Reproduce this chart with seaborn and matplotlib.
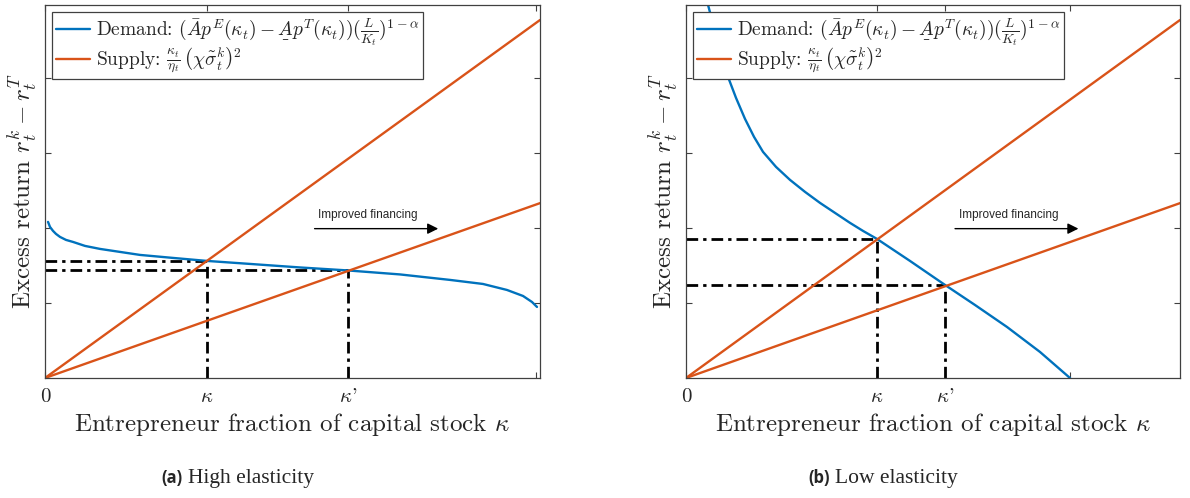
import numpy as np
import pandas as pd
import matplotlib
matplotlib.use("Agg")
import matplotlib.pyplot as plt
import seaborn as sns
from matplotlib.mathtext import MathTextParser

# ---------------- data ----------------
supply_x = [0.0, 1.0]
supply_steep = [0.0, 4.77]
supply_shallow = [0.0, 2.33]

left_demand_x = [0.0061, 0.0101, 0.0162, 0.0222, 0.0303, 0.0424, 0.0566, 0.0808,
                 0.1111, 0.1515, 0.1919, 0.2586, 0.3273, 0.4141, 0.5152, 0.6121,
                 0.7172, 0.8182, 0.8848, 0.9333, 0.9657, 0.9838, 0.9939]
left_demand_y = [2.080, 2.013, 1.960, 1.920, 1.880, 1.840, 1.813, 1.760,
                 1.720, 1.680, 1.640, 1.600, 1.560, 1.520, 1.473, 1.433,
                 1.380, 1.307, 1.253, 1.173, 1.093, 1.013, 0.947]
left_kappa = [0.327, 0.612]
left_eq = [1.56, 1.433]
left_end_tick = 0.992

right_demand_x = [0.0445, 0.0547, 0.0648, 0.0749, 0.0850, 0.1012, 0.1194, 0.1377,
                  0.1559, 0.1822, 0.2105, 0.2409, 0.2713, 0.3016, 0.3320, 0.3583,
                  0.3866, 0.4534, 0.5243, 0.5850, 0.6498, 0.7166, 0.7773]
right_demand_y = [4.973, 4.720, 4.453, 4.227, 4.013, 3.733, 3.453, 3.213,
                  3.013, 2.813, 2.640, 2.480, 2.333, 2.200, 2.067, 1.960,
                  1.853, 1.560, 1.240, 0.973, 0.680, 0.347, 0.000]
right_kappa = [0.3866, 0.5243]
right_eq = [1.853, 1.240]
right_end_tick = 0.7773

tick_labels = ["0", r"$\kappa$", r"$\kappa$'"]
y_ticks = [1, 2, 3, 4]
captions = [("(a)", "High elasticity"), ("(b)", "Low elasticity")]
arrow_text = "Improved financing"

# ---------------- style ----------------
sns.set_theme(style="white")
plt.rcParams["mathtext.fontset"] = "cm"
plt.rcParams["font.family"] = ["cmr10", "DejaVu Sans"]
plt.rcParams["axes.formatter.use_mathtext"] = True

BLUE = "#0072BD"
ORANGE = "#D95319"
SPINE = "0.25"

UA = "A"
for cand in [r"\underline{A}", r"\underset{\_}{A}"]:
    try:
        MathTextParser("path").parse("$" + cand + "$")
        UA = cand
        break
    except Exception:
        pass

demand_label = (r"Demand: $(\bar{A}p^E(\kappa_t)-" + UA +
                r"p^T(\kappa_t))(\frac{L}{K_t})^{1-\alpha}$")
supply_label = r"Supply: $\frac{\kappa_t}{\eta_t}\,\left(\chi\tilde{\sigma}_t^k\right)^2$"

fig = plt.figure(figsize=(11.9, 4.98), dpi=100)
W, H = 1190, 498
ax_l = fig.add_axes([45 / W, 1 - 378 / H, 495 / W, 373 / H])
ax_r = fig.add_axes([686 / W, 1 - 378 / H, 494 / W, 373 / H])

panels = [
    (ax_l, left_demand_x, left_demand_y, left_kappa, left_eq, left_end_tick),
    (ax_r, right_demand_x, right_demand_y, right_kappa, right_eq, right_end_tick),
]

dashdot = (0, (4.2, 1.8, 1.2, 1.8))

for i, (ax, dx, dy, kap, eq, endt) in enumerate(panels):
    sns.lineplot(x=dx, y=dy, ax=ax, color=BLUE, lw=1.7, sort=False,
                 estimator=None, label=demand_label)
    sns.lineplot(x=supply_x, y=supply_steep, ax=ax, color=ORANGE, lw=1.7,
                 sort=False, estimator=None, label=supply_label)
    sns.lineplot(x=supply_x, y=supply_shallow, ax=ax, color=ORANGE, lw=1.7,
                 sort=False, estimator=None, label="_nolegend_")
    for k, e in zip(kap, eq):
        ax.plot([0, k], [e, e], color="black", lw=2.0, linestyle=dashdot, zorder=1)
        ax.plot([k, k], [0, e], color="black", lw=2.0, linestyle=dashdot, zorder=1)

    ax.set_xlim(0, 1)
    ax.set_ylim(0, 4.97)
    ax.set_xticks([0] + kap + [endt])
    ax.set_xticklabels(tick_labels + [""], fontsize=15)
    ax.set_yticks(y_ticks)
    ax.set_yticklabels([])
    ax.tick_params(axis="both", which="both", direction="in", length=4,
                   width=0.8, color=SPINE, top=True, right=True, bottom=True,
                   left=True, pad=7)
    for s in ax.spines.values():
        s.set_visible(True)
        s.set_color(SPINE)
        s.set_linewidth(0.9)

    ax.set_xlabel(r"Entrepreneur fraction of capital stock $\kappa$",
                  fontsize=18, labelpad=4)
    ax.set_ylabel(r"Excess return $r_t^k - r_t^T$", fontsize=18)
    ax.yaxis.set_label_coords(-0.010, 0.5)

    # arrow annotation
    ax.annotate("", xy=(0.80, 1.99), xytext=(0.539, 1.99),
                arrowprops=dict(arrowstyle="-|>", color="black", lw=1.0,
                                mutation_scale=16))
    ax.text(0.552, 2.17, arrow_text, fontsize=8.5, va="center", ha="left",
            family="Liberation Sans")

    leg = ax.legend(loc="upper left", fontsize=14, frameon=True,
                    fancybox=False, framealpha=1, edgecolor=SPINE,
                    handlelength=1.75, handletextpad=0.3, labelspacing=-0.1,
                    borderpad=0.2, borderaxespad=0.35)
    leg.get_frame().set_linewidth(0.9)

# captions
for (lab, txt), xr in zip(captions, [183, 830]):
    fig.text(xr / W, 1 - 478 / H, lab, ha="right", va="center", fontsize=12,
             family="Open Sans", weight="bold")
    fig.text((xr + 5) / W, 1 - 478 / H, txt, ha="left", va="center",
             fontsize=15.5, family="Liberation Serif")

fig.savefig("out.png", dpi=100)
